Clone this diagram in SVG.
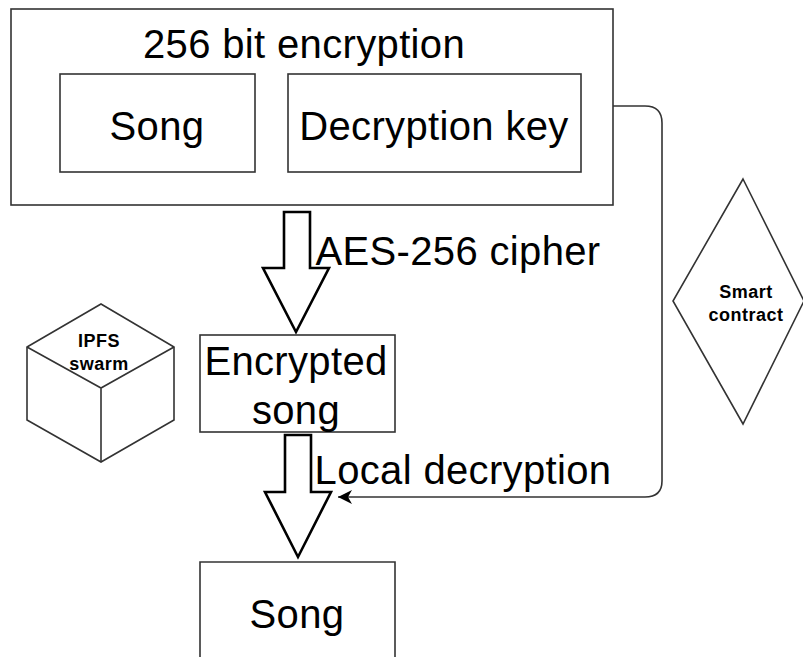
<svg xmlns="http://www.w3.org/2000/svg" width="803" height="657" viewBox="0 0 803 657">
<style>
text{font-family:"Liberation Sans",Arial,sans-serif;fill:#000;text-anchor:middle}
.b{fill:#fff;stroke:#333;stroke-width:1.6}
.t{fill:#fff;stroke:#000;stroke-width:2.6}
.l{font-size:40px;letter-spacing:.35px}
.s{font-size:18px;font-weight:bold;letter-spacing:.5px}
</style>
<defs><marker id="a" markerWidth="15" markerHeight="15" refX="14" refY="7.5" orient="auto" markerUnits="userSpaceOnUse"><path d="M0 .5L14 7.5L0 14.5L4 7.5Z" fill="#000"/></marker></defs>
<rect width="803" height="657" fill="#fff"/>
<g id="connectors">
<path d="M613 106H645Q662 106 662 123V481Q662 497 645 497H338" fill="none" stroke="#333" stroke-width="1.6" marker-end="url(#a)"/>
<path class="t" d="M284 212H310V268H329L296 332L263 268H284Z"/>
<path class="t" d="M285 435H311V492H331L298 557L265 492H285Z"/>
</g>
<g id="outer"><rect class="b" x="11" y="9" width="602" height="196"/><text class="l" x="304" y="58">256 bit encryption</text></g>
<g id="song1"><rect class="b" x="60" y="74" width="195" height="98"/><text class="l" x="157" y="140">Song</text></g>
<g id="key"><rect class="b" x="288" y="74" width="293" height="98"/><text class="l" x="434" y="140">Decryption key</text></g>
<g id="aes"><text class="l" x="458" y="265">AES-256 cipher</text></g>
<g id="encrypted"><rect class="b" x="200" y="335" width="195" height="97"/><text class="l" x="296" y="375">Encrypted</text><text class="l" x="296" y="424">song</text></g>
<g id="local"><text class="l" x="463" y="484">Local decryption</text></g>
<g id="song2"><path class="b" d="M200 657V562H395V657"/><text class="l" x="297" y="628">Song</text></g>
<g id="ipfs"><path class="b" d="M101 304L174 347V420L101 462L27 420V347Z"/><path class="b" style="fill:none" d="M27 347L101 388L174 347M101 388V462"/><text class="s" x="99" y="347">IPFS</text><text class="s" x="99" y="370">swarm</text></g>
<g id="contract"><path class="b" d="M743 179L804 301L743 424L673 301Z"/><text class="s" x="746" y="298">Smart</text><text class="s" x="746" y="321">contract</text></g>
</svg>
